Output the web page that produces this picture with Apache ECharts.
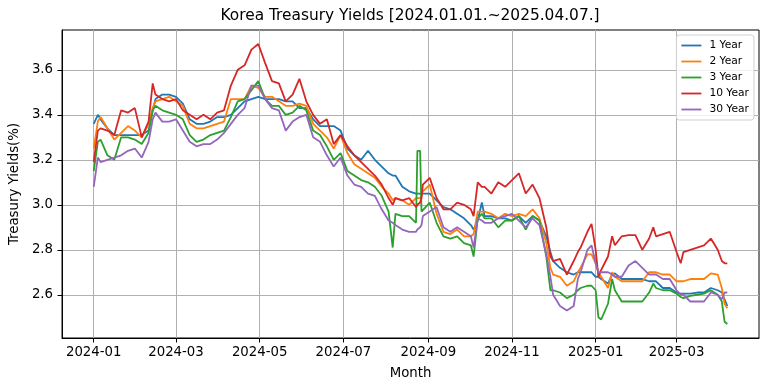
<!DOCTYPE html>
<html><head><meta charset="utf-8">
<script src="https://cdn.jsdelivr.net/npm/echarts@6/dist/echarts.min.js"></script>
<style>html,body{margin:0;padding:0;background:#fff}#c{width:768px;height:391px}</style>
</head><body><div id="c"></div>
<script>
const titleText = 'Korea Treasury Yields [2024.01.01.~2025.04.07.]';
const seriesNames = ['1 Year', '2 Year', '3 Year', '10 Year', '30 Year'];
const colors = ['#1f77b4', '#ff7f0e', '#2ca02c', '#d62728', '#9467bd'];
const xTickLabels = ['2024-01', '2024-03', '2024-05', '2024-07', '2024-09', '2024-11', '2025-01', '2025-03'];
const yTickValues = [2.6, 2.8, 3.0, 3.2, 3.4, 3.6];

const dates = [
 '2024-01-01','2024-01-04','2024-01-06','2024-01-11','2024-01-16','2024-01-21','2024-01-26','2024-01-31',
 '2024-02-05','2024-02-10','2024-02-13','2024-02-15','2024-02-20','2024-02-25','2024-03-01','2024-03-06',
 '2024-03-11','2024-03-16','2024-03-21','2024-03-26','2024-03-31','2024-04-05','2024-04-10','2024-04-15',
 '2024-04-20','2024-04-25','2024-04-30','2024-05-05','2024-05-10','2024-05-15','2024-05-20','2024-05-25',
 '2024-05-30','2024-06-04','2024-06-09','2024-06-14','2024-06-19','2024-06-24','2024-06-29','2024-07-04',
 '2024-07-09','2024-07-14','2024-07-19','2024-07-24','2024-07-29','2024-08-03','2024-08-06','2024-08-08',
 '2024-08-13','2024-08-18','2024-08-23','2024-08-24','2024-08-26','2024-08-27','2024-08-28','2024-09-02',
 '2024-09-07','2024-09-12','2024-09-17','2024-09-22','2024-09-27','2024-10-02','2024-10-04','2024-10-07',
 '2024-10-10','2024-10-12','2024-10-17','2024-10-22','2024-10-27','2024-11-01','2024-11-06','2024-11-11',
 '2024-11-16','2024-11-21','2024-11-26','2024-11-29','2024-12-01','2024-12-06','2024-12-11','2024-12-16',
 '2024-12-19','2024-12-21','2024-12-26','2024-12-29','2025-01-01','2025-01-03','2025-01-05','2025-01-10',
 '2025-01-13','2025-01-15','2025-01-20','2025-01-25','2025-01-30','2025-02-04','2025-02-09','2025-02-12',
 '2025-02-14','2025-02-19','2025-02-24','2025-03-01','2025-03-04','2025-03-06','2025-03-11','2025-03-16',
 '2025-03-21','2025-03-26','2025-03-31','2025-04-03','2025-04-05','2025-04-07'
];

const y1 = [
 3.36,3.40,3.38,3.34,3.31,3.31,3.31,3.31,
 3.31,3.33,3.42,3.47,3.49,3.49,3.48,3.45,
 3.38,3.36,3.36,3.37,3.39,3.39,3.40,3.43,
 3.46,3.47,3.48,3.47,3.47,3.47,3.46,3.46,
 3.43,3.43,3.38,3.35,3.35,3.35,3.33,3.25,
 3.22,3.20,3.24,3.20,3.17,3.14,3.13,3.13,
 3.08,3.06,3.05,3.05,3.05,3.05,3.05,3.05,
 3.02,2.99,2.98,2.96,2.94,2.91,2.89,2.93,
 3.01,2.95,2.95,2.94,2.94,2.93,2.95,2.92,
 2.95,2.93,2.86,2.79,2.75,2.72,2.70,2.69,
 2.70,2.70,2.70,2.70,2.68,2.68,2.67,2.65,
 2.69,2.695,2.67,2.67,2.67,2.67,2.66,2.66,
 2.66,2.63,2.63,2.61,2.605,2.605,2.605,2.61,
 2.61,2.63,2.62,2.61,2.58,2.55
];
const y2 = [
 3.25,3.37,3.39,3.34,3.29,3.32,3.35,3.33,
 3.30,3.36,3.43,3.46,3.47,3.48,3.46,3.44,
 3.36,3.34,3.34,3.35,3.36,3.37,3.47,3.47,
 3.47,3.53,3.52,3.48,3.48,3.46,3.44,3.44,
 3.45,3.44,3.36,3.33,3.30,3.25,3.31,3.23,
 3.18,3.16,3.14,3.12,3.08,3.05,3.02,3.03,
 3.02,3.00,3.03,3.03,3.03,3.04,3.06,3.09,
 2.96,2.88,2.87,2.89,2.86,2.86,2.87,2.97,
 2.97,2.97,2.96,2.94,2.96,2.95,2.96,2.95,
 2.98,2.94,2.83,2.72,2.69,2.68,2.64,2.66,
 2.70,2.72,2.78,2.78,2.74,2.70,2.68,2.63,
 2.70,2.68,2.66,2.66,2.66,2.66,2.70,2.70,
 2.70,2.69,2.69,2.66,2.66,2.66,2.67,2.67,
 2.67,2.695,2.69,2.63,2.56,2.54
];
const y3 = [
 3.15,3.28,3.29,3.22,3.20,3.30,3.30,3.29,
 3.27,3.32,3.42,3.44,3.42,3.41,3.40,3.38,
 3.31,3.28,3.29,3.31,3.32,3.33,3.39,3.46,
 3.47,3.51,3.55,3.47,3.44,3.44,3.40,3.41,
 3.44,3.42,3.33,3.31,3.26,3.20,3.23,3.15,
 3.13,3.11,3.10,3.08,3.04,2.97,2.81,2.96,
 2.95,2.95,2.92,3.24,3.24,2.97,2.97,3.01,
 2.92,2.86,2.85,2.86,2.83,2.82,2.77,2.94,
 2.96,2.94,2.94,2.90,2.93,2.93,2.95,2.89,
 2.95,2.93,2.77,2.62,2.62,2.61,2.585,2.60,
 2.62,2.63,2.64,2.64,2.62,2.50,2.49,2.56,
 2.67,2.62,2.57,2.57,2.57,2.57,2.61,2.65,
 2.63,2.62,2.62,2.605,2.59,2.585,2.595,2.60,
 2.605,2.62,2.60,2.57,2.48,2.47
];
const y10 = [
 3.19,3.33,3.34,3.33,3.31,3.42,3.41,3.43,
 3.30,3.37,3.54,3.49,3.47,3.46,3.47,3.42,
 3.40,3.38,3.40,3.38,3.41,3.42,3.53,3.60,
 3.62,3.69,3.715,3.63,3.55,3.54,3.46,3.49,
 3.56,3.46,3.40,3.36,3.38,3.27,3.31,3.26,
 3.22,3.19,3.16,3.13,3.09,3.03,3.00,3.03,
 3.02,3.03,2.99,3.00,3.01,3.03,3.09,3.12,
 3.03,2.98,2.98,3.01,3.00,2.98,2.95,3.10,
 3.08,3.08,3.05,3.10,3.08,3.11,3.14,3.05,
 3.09,3.03,2.90,2.77,2.75,2.76,2.69,2.75,
 2.79,2.81,2.88,2.915,2.80,2.68,2.71,2.77,
 2.86,2.82,2.86,2.865,2.865,2.80,2.85,2.90,
 2.86,2.87,2.88,2.79,2.74,2.79,2.80,2.81,
 2.82,2.85,2.80,2.75,2.74,2.74
];
const y30 = [
 3.08,3.21,3.19,3.20,3.21,3.22,3.24,3.25,
 3.21,3.28,3.38,3.41,3.37,3.37,3.38,3.33,
 3.28,3.26,3.27,3.27,3.29,3.32,3.36,3.40,
 3.43,3.53,3.53,3.47,3.43,3.42,3.33,3.37,
 3.39,3.40,3.30,3.28,3.22,3.17,3.21,3.13,
 3.09,3.08,3.05,3.04,2.98,2.93,2.92,2.91,
 2.89,2.88,2.88,2.89,2.90,2.91,2.95,2.97,
 2.99,2.90,2.88,2.90,2.88,2.86,2.81,2.94,
 2.93,2.92,2.92,2.94,2.95,2.96,2.93,2.90,
 2.94,2.91,2.78,2.68,2.60,2.55,2.53,2.55,
 2.67,2.70,2.80,2.82,2.74,2.70,2.70,2.70,
 2.69,2.68,2.68,2.73,2.75,2.72,2.69,2.69,
 2.69,2.67,2.67,2.62,2.60,2.60,2.57,2.57,
 2.57,2.61,2.60,2.58,2.61,2.61
];
const seriesValues = [y1, y2, y3, y10, y30];

const FONT = 'DejaVu Sans';
const base = Date.UTC(2024, 0, 1);
const dayOf = s => (Date.UTC(+s.slice(0, 4), +s.slice(5, 7) - 1, s.length > 7 ? +s.slice(8, 10) : 1) - base) / 86400000;
const xDays = dates.map(dayOf);
const xTicks = xTickLabels.map(dayOf);

const xLo = Math.min(...xDays), xHi = Math.max(...xDays);
const xPad = (xHi - xLo) * 0.05;
const allV = seriesValues.flat();
const yLo = Math.min(...allV), yHi = Math.max(...allV);
const yPad = (yHi - yLo) * 0.05;

const chart = echarts.init(document.getElementById('c'), null, {renderer: 'canvas'});
chart.setOption({
  animation: false,
  backgroundColor: '#fff',
  textStyle: {fontFamily: FONT},
  title: {
    text: titleText, left: 410, top: 8, textAlign: 'center', padding: 0,
    textStyle: {fontFamily: FONT, fontSize: 15.4, fontWeight: 'normal', color: '#000'}
  },
  grid: {left: 62, right: 9, top: 30, bottom: 53, show: true, borderColor: '#000', borderWidth: 1, containLabel: false},
  legend: {
    orient: 'vertical', right: 14, top: 35, data: seriesNames,
    icon: 'rect', itemWidth: 20, itemHeight: 1.8, itemGap: 5,
    textStyle: {fontFamily: FONT, fontSize: 10.7, color: '#000', lineHeight: 10.5, padding: [0, 0, 0, 3]},
    borderColor: '#d0d0d0', borderWidth: 1, borderRadius: 3, padding: [5, 5, 5, 5],
    backgroundColor: 'rgba(255,255,255,0.8)'
  },
  xAxis: {
    type: 'value', min: xLo - xPad, max: xHi + xPad,
    name: 'Month', nameLocation: 'middle', nameGap: 29,
    nameTextStyle: {fontFamily: FONT, fontSize: 13.3, color: '#000'},
    axisLine: {show: true, onZero: false, lineStyle: {color: '#000', width: 1}},
    axisTick: {show: true, length: 4.5, lineStyle: {color: '#000'}, customValues: xTicks},
    axisLabel: {customValues: xTicks, fontFamily: FONT, fontSize: 13.3, color: '#000', margin: 8,
      formatter: v => { const i = xTicks.indexOf(v); return i >= 0 ? xTickLabels[i] : ''; }},
    splitLine: {show: true, lineStyle: {color: '#b0b0b0', width: 1}}
  },
  yAxis: {
    type: 'value', min: yLo - yPad, max: yHi + yPad,
    name: 'Treasury Yields(%)', nameLocation: 'middle', nameGap: 38,
    nameTextStyle: {fontFamily: FONT, fontSize: 13.3, color: '#000'},
    axisLine: {show: true, onZero: false, lineStyle: {color: '#000', width: 1}},
    axisTick: {show: true, length: 4.5, lineStyle: {color: '#000'}, customValues: yTickValues},
    axisLabel: {customValues: yTickValues, fontFamily: FONT, fontSize: 13.3, color: '#000', margin: 9,
      formatter: v => v.toFixed(1)},
    splitLine: {show: true, lineStyle: {color: '#b0b0b0', width: 1}}
  },
  series: seriesNames.map((n, k) => ({
    name: n, type: 'line', showSymbol: false, symbol: 'none',
    color: colors[k],
    lineStyle: {width: 1.8, color: colors[k]},
    data: xDays.map((d, i) => [d, seriesValues[k][i]])
  }))
});
</script></body></html>
